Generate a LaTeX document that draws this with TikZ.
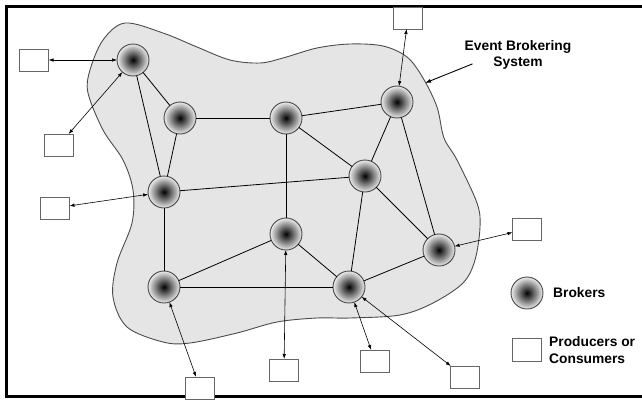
\documentclass[tikz,border=0pt]{standalone}
\usepackage{fontspec}
\setmainfont{Liberation Sans}
\usepackage{tikz}
\usetikzlibrary{positioning,calc}
\usetikzlibrary{arrows.meta}

% shading of a broker: black core fading out to the rim
\pgfdeclareradialshading{brokershade}{\pgfpoint{0bp}{0bp}}{%
  color(0bp)=(black); color(3bp)=(black!88); color(25bp)=(black!7); color(50bp)=(black!7)}

\tikzset{
  broker/.style={circle, draw=black!72, line width=0.9pt, shading=brokershade,
    minimum size=32pt, inner sep=0pt, outer sep=0pt},
  client/.style={rectangle, draw=black!60, fill=white, line width=0.8pt,
    minimum width=29pt, minimum height=22pt, inner sep=0pt, outer sep=0pt},
  link/.style={black, line width=0.8pt},
  pc/.style={{Latex[length=5pt,width=3.5pt]}-{Latex[length=5pt,width=3.5pt]}, line width=0.6pt},
  lbl/.style={font=\bfseries\fontsize{13.8}{16.5}\selectfont, inner sep=0pt}
}

\begin{document}
\begin{tikzpicture}[x=1pt,y=-1pt]
  \useasboundingbox (0,0) rectangle (642,399);

  % Frame
  \draw[line width=3pt] (642,6) -- (6,6) -- (6,396.5) -- (642,396.5);

  % The brokering system
  \draw[fill=black!10, draw=black!70, line width=0.9pt]
    plot[smooth cycle, tension=0.55] coordinates {
      (125,23) (163,33) (197,47) (230,60) (260,63) (283,58) (317,48) (350,44)
      (383,46) (407,57) (423,78) (437,107) (444,138) (457,160) (477,203)
      (480,227) (475,260) (463,283) (433,303) (400,315) (350,318) (317,318)
      (277,322) (237,333) (190,343) (163,342) (127,327) (113,297) (117,263)
      (132,223) (133,190) (123,160) (103,130) (88,93) (90,70) (103,40)};
  \coordinate (rim) at (425,83);

  % Brokers
  \node[broker] (b1) at (133,60) {};
  \node[broker] (b2) at (180,118) {};
  \node[broker] (b3) at (286,118) {};
  \node[broker] (b4) at (164,192) {};
  \node[broker] (b5) at (397,102) {};
  \node[broker] (b6) at (365,176) {};
  \node[broker] (b7) at (286,234) {};
  \node[broker] (b8) at (164,287) {};
  \node[broker] (b9) at (439,250) {};
  \node[broker] (b10) at (349,287) {};

  % Links between brokers
  \draw[link] (b1) -- (b2);
  \draw[link] (b1) -- (b4);
  \draw[link] (b2) -- (b4);
  \draw[link] (b2) -- (b3);
  \draw[link] (b3) -- (b5);
  \draw[link] (b3) -- (b6);
  \draw[link] (b3) -- (b7);
  \draw[link] (b4) -- (b6);
  \draw[link] (b4) -- (b8);
  \draw[link] (b5) -- (b6);
  \draw[link] (b5) -- (b9);
  \draw[link] (b6) -- (b9);
  \draw[link] (b6) -- (b10);
  \draw[link] (b7) -- (b8);
  \draw[link] (b7) -- (b10);
  \draw[link] (b8) -- (b10);
  \draw[link] (b9) -- (b10);

  % Producers and consumers
  \node[client] (c1) at (34,60) {};
  \node[client] (c2) at (59,145) {};
  \node[client] (c3) at (55,208) {};
  \node[client] (c4) at (408,18) {};
  \node[client] (c5) at (527,229) {};
  \node[client] (c6) at (200,388) {};
  \node[client] (c7) at (284,370) {};
  \node[client] (c8) at (375,361) {};
  \node[client] (c9) at (465,377) {};

  \draw[pc] (c1) -- (b1);
  \draw[pc] (c2) -- (b1);
  \draw[pc] (c3) -- (b4);
  \draw[pc] (c4) -- (b5);
  \draw[pc] (c5) -- (b9);
  \draw[pc] (c6) -- (b8);
  \draw[pc] (c7) -- (b7);
  \draw[pc] (c8) -- (b10);
  \draw[pc] (c9) -- (b10);

  % Labels
  \node[lbl, align=center] (ebs) at (518,55) {Event Brokering\\System};
  \draw[-{Latex[length=6pt,width=4pt]}, line width=0.9pt]
    ([xshift=8pt,yshift=6pt]ebs.south west) -- (rim);

  % Legend
  \node[broker] (lb) at (527,293) {};
  \node[lbl, anchor=west] (lbt) at (553,293) {Brokers};
  \node[client, minimum height=23pt] (lc) at (527,350) {};
  \node[lbl, anchor=west, align=left] (lct) at (549,350) {Producers or\\Consumers};
\end{tikzpicture}
\end{document}
